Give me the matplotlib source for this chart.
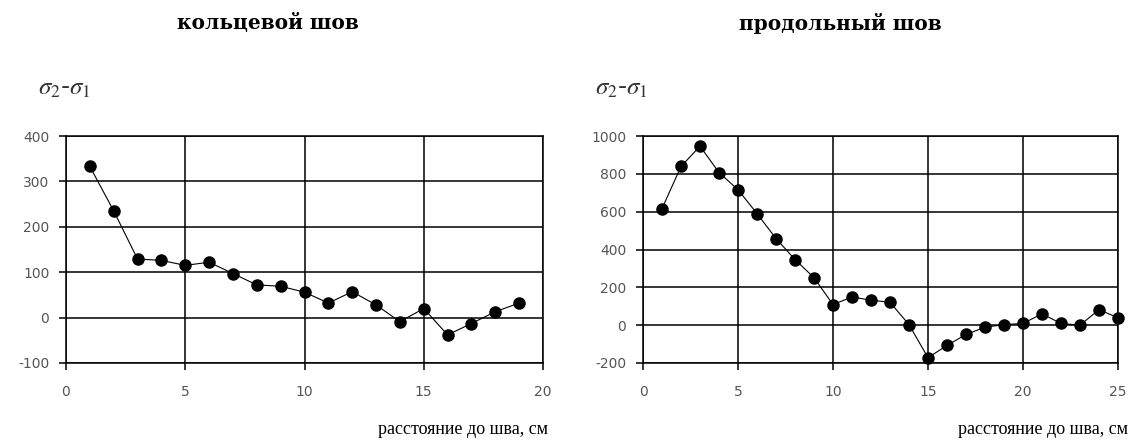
import matplotlib
matplotlib.use('Agg')
import matplotlib.pyplot as plt

### Data ###

ring_x = list(range(1, 20))
ring_y = [333, 235, 129, 126, 115, 122, 97, 72, 69, 56,
          32, 57, 28, -9, 20, -38, -13, 13, 32]

long_x = list(range(1, 26))
long_y = [616, 839, 946, 807, 716, 590, 458, 347, 251, 109,
          149, 132, 121, 3, -172, -107, -49, -11, 3, 9,
          60, 9, 0, 82, 39]

titles = ['кольцевой шов', 'продольный шов']
x_label = 'расстояние до шва, см'
y_label = r'$\sigma_2$-$\sigma_1$'

plt.rcParams['mathtext.fontset'] = 'stix'
plt.rcParams['axes.unicode_minus'] = False

fig = plt.figure(figsize=(11.33, 4.43), dpi=100)

ax1 = fig.add_axes([66 / 1133, 1 - 363 / 443, 477 / 1133, 227 / 443])
ax2 = fig.add_axes([643 / 1133, 1 - 363 / 443, 475 / 1133, 227 / 443])

panels = [
    (ax1, ring_x, ring_y, (0, 20), (-100, 400), 100, 268, 38),
    (ax2, long_x, long_y, (0, 25), (-200, 1000), 200, 840, 595),
]

for i, (ax, xs, ys, xlim, ylim, ystep, title_x, sigma_x) in enumerate(panels):

    ax.plot(xs, ys, color='black', linewidth=0.8,
            marker='o', markersize=8, markerfacecolor='black',
            markeredgecolor='black', clip_on=False, zorder=3)

    ax.set_xlim(*xlim)
    ax.set_ylim(*ylim)
    ax.set_xticks(range(xlim[0], xlim[1] + 1, 5))
    ax.set_yticks(range(ylim[0], ylim[1] + 1, ystep))

    ax.grid(True, color='black', linewidth=1.1)
    for spine in ax.spines.values():
        spine.set_linewidth(1.1)
        spine.set_color('black')

    ax.tick_params(direction='out', length=5, width=1.1, colors='black',
                   labelcolor='#555555', labelsize=10)
    ax.tick_params(axis='x', pad=11)
    ax.tick_params(axis='y', pad=7)
    for lab in ax.get_xticklabels() + ax.get_yticklabels():
        lab.set_fontfamily('DejaVu Sans')

    # Titles and labels placed in figure coordinates
    fig.text(title_x / 1133, 1 - 23 / 443, titles[i], ha='center', va='center',
             fontsize=14.5, fontweight='bold', family='DejaVu Serif')
    fig.text(sigma_x / 1133, 1 - 88 / 443, y_label, ha='left', va='center',
             fontsize=18, color='#333333')

fig.text(548 / 1133, 1 - 430 / 443, x_label, ha='right', va='center',
         fontsize=13, family='Liberation Serif')
fig.text(1128 / 1133, 1 - 430 / 443, x_label, ha='right', va='center',
         fontsize=13, family='Liberation Serif')

fig.savefig('out.png', dpi=100, facecolor='white')
